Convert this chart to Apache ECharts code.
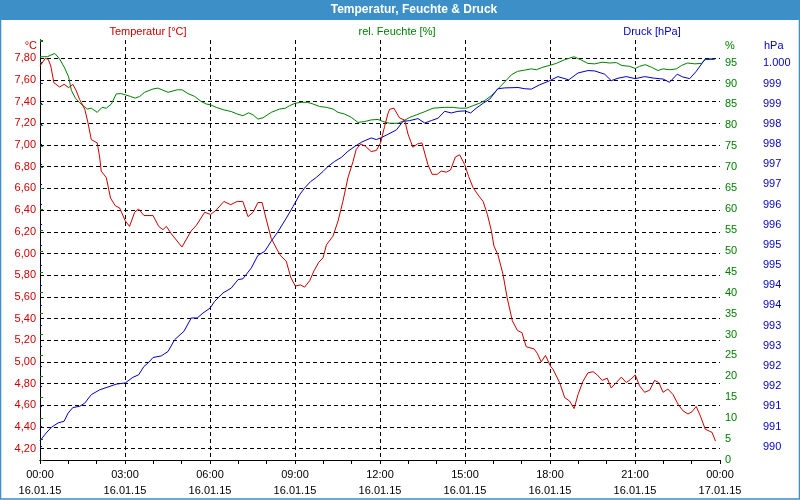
<!DOCTYPE html>
<html>
<head>
<meta charset="utf-8">
<script src="https://cdn.jsdelivr.net/npm/echarts@6/dist/echarts.min.js"></script>
<style>
html,body{margin:0;padding:0;background:#fff;}
#chart{width:800px;height:500px;}
</style>
</head>
<body>
<div id="chart"></div>
<script>
// ---- data ----
const timeLabels = ['00:00','03:00','06:00','09:00','12:00','15:00','18:00','21:00','00:00'];
const dateLabels = ['16.01.15','16.01.15','16.01.15','16.01.15','16.01.15','16.01.15','16.01.15','16.01.15','17.01.15'];
const pressureLabels = ['990','991','991','992','992','993','993','994','994','995','995','996','996','997','997','998','998','999','999','1.000'];

const tempTimes = [0.0,0.19,0.29,0.38,0.49,0.69,0.85,1.01,1.16,1.28,1.40,1.58,1.69,1.81,2.02,2.11,2.16,2.34,2.49,2.66,2.81,3.01,3.16,3.34,3.48,3.67,3.99,4.19,4.34,4.46,4.64,5.01,5.34,5.52,5.81,6.02,6.22,6.49,6.73,6.96,7.16,7.34,7.52,7.69,7.84,7.99,8.16,8.34,8.49,8.69,8.85,9.01,9.19,9.34,9.52,9.67,9.84,9.99,10.11,10.34,10.52,10.69,10.87,11.05,11.16,11.32,11.48,11.69,11.87,12.02,12.16,12.28,12.34,12.49,12.69,12.87,12.99,13.16,13.32,13.48,13.69,13.84,14.02,14.16,14.34,14.49,14.66,14.81,14.99,15.13,15.28,15.46,15.64,15.79,15.93,16.02,16.16,16.34,16.49,16.67,16.85,17.01,17.16,17.44,17.55,17.69,17.84,18.02,18.11,18.34,18.52,18.69,18.85,18.99,19.16,19.34,19.52,19.67,19.84,20.02,20.16,20.34,20.52,20.69,20.85,21.01,21.16,21.34,21.52,21.69,21.84,21.99,22.16,22.34,22.52,22.69,22.87,23.01,23.16,23.31,23.48,23.64,23.72,23.84];
const tempValues = [7.73,7.80,7.79,7.73,7.575,7.535,7.56,7.53,7.56,7.50,7.42,7.33,7.21,7.05,7.02,6.88,6.76,6.70,6.51,6.44,6.42,6.30,6.25,6.38,6.41,6.35,6.35,6.25,6.22,6.25,6.18,6.06,6.21,6.26,6.38,6.36,6.40,6.48,6.45,6.48,6.48,6.34,6.38,6.47,6.47,6.31,6.14,6.05,5.98,5.93,5.78,5.70,5.71,5.69,5.75,5.84,5.92,5.96,6.08,6.16,6.30,6.48,6.70,6.85,6.96,7.01,6.99,6.94,6.95,7.02,7.17,7.29,7.33,7.34,7.25,7.23,7.10,6.98,7.01,7.02,6.82,6.73,6.73,6.76,6.75,6.77,6.89,6.91,6.82,6.71,6.61,6.54,6.48,6.36,6.21,6.07,5.99,5.81,5.59,5.38,5.29,5.27,5.14,5.12,5.08,5.00,5.06,4.96,4.93,4.81,4.67,4.64,4.57,4.70,4.82,4.90,4.91,4.88,4.83,4.85,4.76,4.81,4.86,4.81,4.84,4.88,4.78,4.72,4.74,4.83,4.81,4.72,4.75,4.70,4.61,4.55,4.52,4.54,4.59,4.50,4.38,4.36,4.35,4.27];

const humTimes = [0.0,0.26,0.52,0.69,0.87,1.01,1.11,1.25,1.40,1.52,1.67,1.81,2.02,2.19,2.34,2.52,2.69,2.85,3.01,3.20,3.36,3.52,3.69,3.99,4.16,4.34,4.52,4.85,5.01,5.22,5.46,5.69,5.87,6.02,6.22,6.49,6.75,6.96,7.16,7.36,7.52,7.69,7.87,8.16,8.46,8.66,8.81,9.01,9.22,9.44,9.64,9.87,10.11,10.34,10.52,10.75,10.99,11.22,11.46,11.69,11.93,12.11,12.34,12.64,12.81,13.05,13.28,13.52,13.87,14.28,14.58,14.81,15.05,15.28,15.52,15.69,15.93,16.16,16.46,16.64,16.85,17.11,17.34,17.52,17.75,18.02,18.22,18.52,18.85,19.11,19.34,19.58,19.84,20.11,20.34,20.54,20.81,21.01,21.16,21.36,21.58,21.81,21.99,22.22,22.46,22.64,22.85,23.11,23.34,23.48,23.81];
const humValues = [96.4,96.4,97.2,95.9,93.7,91.6,88.3,86.5,85.4,84.7,83.9,84.1,83.1,84.3,84.1,85.1,87.5,87.6,87.3,86.9,86.5,86.9,87.9,88.7,88.9,88.4,87.9,88.5,88.5,87.6,86.9,85.7,85.1,84.9,84.3,83.7,83.3,82.7,82.3,83.0,82.5,81.5,81.8,83.1,83.9,84.1,84.7,85.3,85.5,85.5,85.1,84.5,84.3,83.9,83.1,82.7,81.9,80.7,80.9,81.3,81.4,80.9,80.5,80.5,81.0,81.9,82.5,83.1,84.1,84.3,84.3,84.1,84.1,84.7,85.3,85.9,87.1,88.7,90.8,92.1,92.9,93.2,93.5,93.3,93.9,94.4,94.8,95.7,96.4,95.6,94.8,94.7,95.1,94.9,95.0,94.3,94.1,93.6,94.1,94.5,93.9,93.1,93.5,93.3,93.5,94.3,94.9,94.7,94.8,95.7,95.9];

const presTimes = [0.0,0.22,0.40,0.64,0.85,0.99,1.16,1.40,1.58,1.81,2.11,2.40,2.69,3.01,3.28,3.48,3.67,3.81,3.99,4.28,4.52,4.75,5.08,5.34,5.55,5.75,6.01,6.16,6.46,6.75,6.99,7.16,7.46,7.69,7.93,8.16,8.40,8.69,8.93,9.16,9.34,9.55,9.75,9.99,10.16,10.40,10.64,10.87,11.11,11.36,11.69,11.87,12.05,12.28,12.58,12.81,13.05,13.34,13.58,13.81,14.05,14.28,14.52,14.75,14.99,15.20,15.40,15.64,15.87,16.16,16.40,16.87,17.11,17.34,17.64,17.93,18.28,18.66,18.99,19.34,19.58,19.93,20.16,20.40,20.69,21.01,21.34,21.69,21.99,22.22,22.49,22.69,22.93,23.16,23.48,23.81];
const presValues = [990.65,990.84,990.98,991.09,991.13,991.33,991.47,991.50,991.58,991.79,991.91,991.98,992.05,992.08,992.22,992.28,992.49,992.57,992.71,992.75,992.86,993.15,993.36,993.69,993.69,993.81,993.94,994.10,994.31,994.43,994.64,994.66,994.93,995.24,995.34,995.59,995.83,996.16,996.45,996.74,996.91,997.07,997.17,997.32,997.44,997.57,997.67,997.82,997.94,998.05,998.15,998.11,998.16,998.24,998.35,998.56,998.58,998.63,998.52,998.58,998.64,998.81,998.77,998.81,998.82,998.77,998.89,999.01,999.11,999.37,999.39,999.40,999.37,999.36,999.47,999.55,999.67,999.59,999.76,999.82,999.81,999.73,999.57,999.63,999.67,999.62,999.67,999.63,999.61,999.53,999.73,999.66,999.62,999.80,1000.11,1000.10];

// ---- styles ----
const FONT = 'Liberation Sans, Arial, sans-serif';
const RED = '#cc0000', GREEN = '#008000', BLUE = '#0000cc', BAR = '#3d8fc7';
const zip = (a, b) => a.map((t, i) => [t, b[i]]);

const chart = echarts.init(document.getElementById('chart'), null, {renderer: 'canvas'});
const dash = {color: '#000', width: 1, type: [4, 3]};
const hiddenX = (g) => ({type: 'value', gridIndex: g, min: 0, max: 24, show: false});

chart.setOption({
  animation: false,
  backgroundColor: '#fff',
  grid: [
    {left: 40, right: 80, top: 40, bottom: 40},          // main frame + humidity
    {left: 40, right: 80, top: 58.3, bottom: 51.3},      // temperature 4.2..7.8
    {left: 40, right: 80, top: 63.3, bottom: 53.3}       // pressure 990.5..1000
  ],
  xAxis: [
    {
      type: 'value', gridIndex: 0, min: 0, max: 24, interval: 3, position: 'bottom',
      axisLine: {show: true, lineStyle: {color: '#000', width: 1}},
      axisTick: {show: true, length: 4, lineStyle: {color: '#000'}},
      minorTick: {show: true, splitNumber: 3, length: 4, lineStyle: {color: '#000'}},
      splitLine: {show: true, showMinLine: false, showMaxLine: false, lineStyle: dash},
      axisLabel: {
        margin: 7, color: '#000', fontFamily: FONT, fontSize: 11, lineHeight: 16,
        formatter: (v) => { const i = Math.round(v / 3); return timeLabels[i] + '\n' + dateLabels[i]; }
      }
    },
    hiddenX(1),
    hiddenX(2),
    {
      type: 'value', gridIndex: 0, min: 0, max: 24, position: 'top',
      axisLine: {show: true, lineStyle: {color: '#000', width: 1}},
      axisTick: {show: false}, axisLabel: {show: false}, splitLine: {show: false}
    }
  ],
  yAxis: [
    { // temperature
      type: 'value', gridIndex: 1, position: 'left', min: 4.2, max: 7.8, interval: 0.2,
      axisLine: {show: false}, axisTick: {show: false},
      splitLine: {show: true, lineStyle: dash},
      axisLabel: {margin: 4, color: RED, fontFamily: FONT, fontSize: 11,
        formatter: (v) => v.toFixed(2).replace('.', ',')}
    },
    { // humidity
      type: 'value', gridIndex: 0, position: 'right', min: 0, max: 100.4, interval: 5,
      axisLine: {show: true, lineStyle: {color: GREEN, width: 1}},
      axisTick: {show: true, length: 3, lineStyle: {color: GREEN}},
      splitLine: {show: false},
      axisLabel: {margin: 5, color: GREEN, fontFamily: FONT, fontSize: 11,
        formatter: (v) => (Math.abs(v - Math.round(v)) < 1e-6 && v <= 95) ? String(Math.round(v)) : ''}
    },
    { // pressure
      type: 'value', gridIndex: 2, position: 'right', offset: 40, min: 990.5, max: 1000, interval: 0.5,
      axisLine: {show: false},
      axisTick: {show: true, length: 2, lineStyle: {color: BLUE}},
      splitLine: {show: false},
      axisLabel: {margin: 3, color: BLUE, fontFamily: FONT, fontSize: 11,
        formatter: (v) => pressureLabels[Math.round((v - 990.5) / 0.5)] || ''}
    },
    { // pressure axis line (full height)
      type: 'value', gridIndex: 0, position: 'right', offset: 40, min: 0, max: 1,
      axisLine: {show: true, lineStyle: {color: BLUE, width: 1}},
      axisTick: {show: false}, axisLabel: {show: false}, splitLine: {show: false}
    },
    { // left frame line
      type: 'value', gridIndex: 0, position: 'left', min: 0, max: 1,
      axisLine: {show: true, lineStyle: {color: '#000', width: 1}},
      axisTick: {show: false}, axisLabel: {show: false}, splitLine: {show: false}
    }
  ],
  series: [
    {name: 'rel. Feuchte [%]', type: 'line', xAxisIndex: 0, yAxisIndex: 1, data: zip(humTimes, humValues),
     showSymbol: false, symbol: 'none', clip: false, lineStyle: {color: GREEN, width: 1}, z: 3},
    {name: 'Druck [hPa]', type: 'line', xAxisIndex: 2, yAxisIndex: 2, data: zip(presTimes, presValues),
     showSymbol: false, symbol: 'none', clip: false, lineStyle: {color: BLUE, width: 1}, z: 4},
    {name: 'Temperatur [°C]', type: 'line', xAxisIndex: 1, yAxisIndex: 0, data: zip(tempTimes, tempValues),
     showSymbol: false, symbol: 'none', clip: false, lineStyle: {color: RED, width: 1}, z: 5}
  ],
  graphic: [
    {type: 'rect', shape: {x: 0, y: 0, width: 800, height: 20}, style: {fill: BAR}, z: 10},
    {type: 'rect', shape: {x: 0.5, y: 0.5, width: 799, height: 498.5}, style: {fill: null, stroke: BAR, lineWidth: 1.5}, z: 10},
    {type: 'text', x: 414, y: 10, z: 11, style: {text: 'Temperatur, Feuchte & Druck', fill: '#fff',
      font: 'bold 12px ' + FONT, textAlign: 'center', textVerticalAlign: 'middle', align: 'center', verticalAlign: 'middle'}},
    {type: 'text', x: 148, y: 32, z: 11, style: {text: 'Temperatur [°C]', fill: RED,
      font: '11px ' + FONT, textAlign: 'center', textVerticalAlign: 'middle', align: 'center', verticalAlign: 'middle'}},
    {type: 'text', x: 397, y: 32, z: 11, style: {text: 'rel. Feuchte [%]', fill: GREEN,
      font: '11px ' + FONT, textAlign: 'center', textVerticalAlign: 'middle', align: 'center', verticalAlign: 'middle'}},
    {type: 'text', x: 652, y: 32, z: 11, style: {text: 'Druck [hPa]', fill: BLUE,
      font: '11px ' + FONT, textAlign: 'center', textVerticalAlign: 'middle', align: 'center', verticalAlign: 'middle'}},
    {type: 'text', x: 37, y: 46, z: 11, style: {text: '°C', fill: RED,
      font: '11px ' + FONT, textAlign: 'right', textVerticalAlign: 'middle', align: 'right', verticalAlign: 'middle'}},
    {type: 'text', x: 725, y: 46, z: 11, style: {text: '%', fill: GREEN,
      font: '11px ' + FONT, textAlign: 'left', textVerticalAlign: 'middle', align: 'left', verticalAlign: 'middle'}},
    {type: 'text', x: 764, y: 46, z: 11, style: {text: 'hPa', fill: BLUE,
      font: '11px ' + FONT, textAlign: 'left', textVerticalAlign: 'middle', align: 'left', verticalAlign: 'middle'}}
  ]
});
</script>
</body>
</html>
